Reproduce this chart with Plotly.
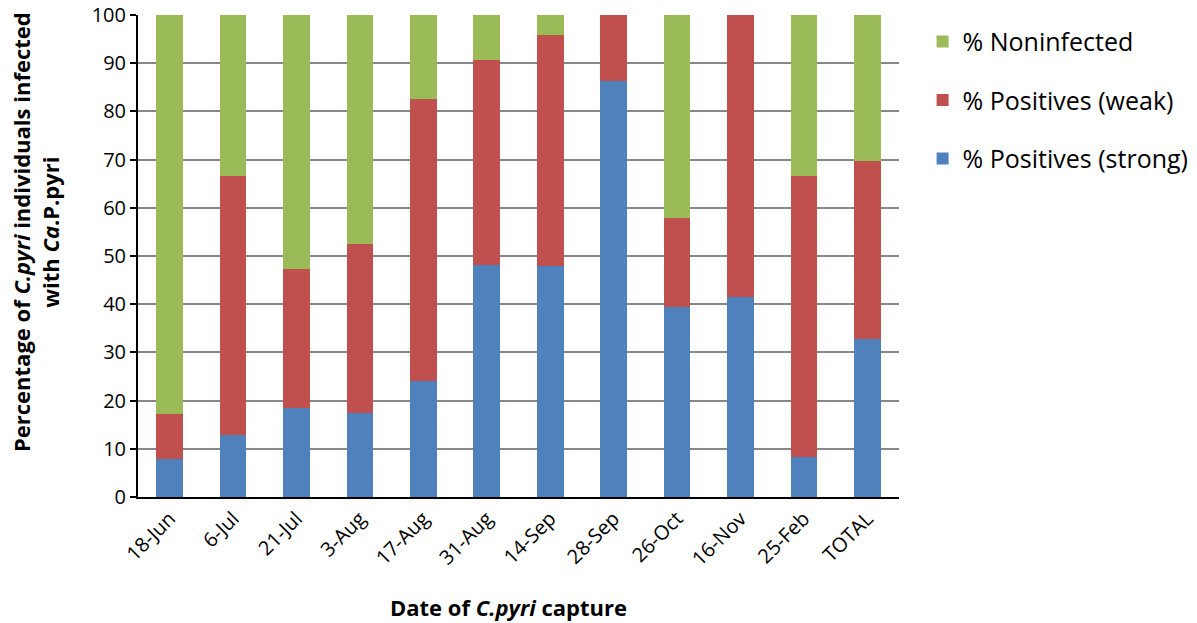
import plotly.graph_objects as go

categories = ["18-Jun", "6-Jul", "21-Jul", "3-Aug", "17-Aug", "31-Aug", "14-Sep",
              "28-Sep", "26-Oct", "16-Nov", "25-Feb", "TOTAL"]
strong = [7.8, 12.8, 18.4, 17.5, 24.0, 48.1, 47.9, 86.3, 39.5, 41.4, 8.4, 32.7]
weak = [9.5, 53.9, 29.0, 34.9, 58.6, 42.5, 47.9, 13.7, 18.3, 58.6, 58.3, 37.1]
noninfected = [82.7, 33.3, 52.6, 47.6, 17.4, 9.4, 4.2, 0.0, 42.2, 0.0, 33.3, 30.2]

FONT = "Open Sans"

fig = go.Figure()
fig.add_trace(go.Bar(x=categories, y=strong, name="% Positives (strong)",
                     marker=dict(color="#4F81BD", line=dict(width=0)),
                     legendgroup="c", legendrank=3))
fig.add_trace(go.Bar(x=categories, y=weak, name="% Positives (weak)",
                     marker=dict(color="#C0504D", line=dict(width=0)),
                     legendgroup="b", legendrank=2))
fig.add_trace(go.Bar(x=categories, y=noninfected, name="% Noninfected",
                     marker=dict(color="#9BBB59", line=dict(width=0)),
                     legendgroup="a", legendrank=1))

fig.update_layout(
    barmode="stack",
    bargap=0.58,
    width=1197, height=623,
    margin=dict(l=130, r=306, t=7, b=134),
    plot_bgcolor="white", paper_bgcolor="white",
    font=dict(family=FONT, size=20, color="black"),
    legend=dict(traceorder="grouped", x=1.031, y=0.992, xanchor="left", yanchor="top",
                font=dict(size=25, family=FONT), tracegroupgap=23, itemwidth=30),
    showlegend=True,
    xaxis=dict(
        tickangle=-45, showline=True, linecolor="black", linewidth=2, automargin=False,
        tickfont=dict(size=20, family=FONT),
    ),
    yaxis=dict(
        range=[0, 100], dtick=10, showline=True, linecolor="black", linewidth=2, automargin=False,
        ticks="outside", ticklen=6, tickcolor="black", tickwidth=1.5,
        showgrid=True, gridcolor="#878787", gridwidth=2,
        tickfont=dict(size=20, family=FONT), ticklabeloverflow="allow",
    ),
    annotations=[
        dict(text="<b>Percentage of <i>C.pyri</i> individuals infected<br>with <i>Ca</i>.P.pyri</b>",
             xref="paper", yref="paper", x=-0.1340, y=0.5498, xanchor="center", yanchor="middle",
             textangle=-90, showarrow=False, font=dict(size=22, family=FONT)),
        dict(text="<b>Date of <i>C.pyri</i> capture</b>",
             xref="paper", yref="paper", x=0.4875, y=-0.228, xanchor="center", yanchor="middle",
             showarrow=False, font=dict(size=22, family=FONT)),
    ],
)

fig.write_html("out.html")
